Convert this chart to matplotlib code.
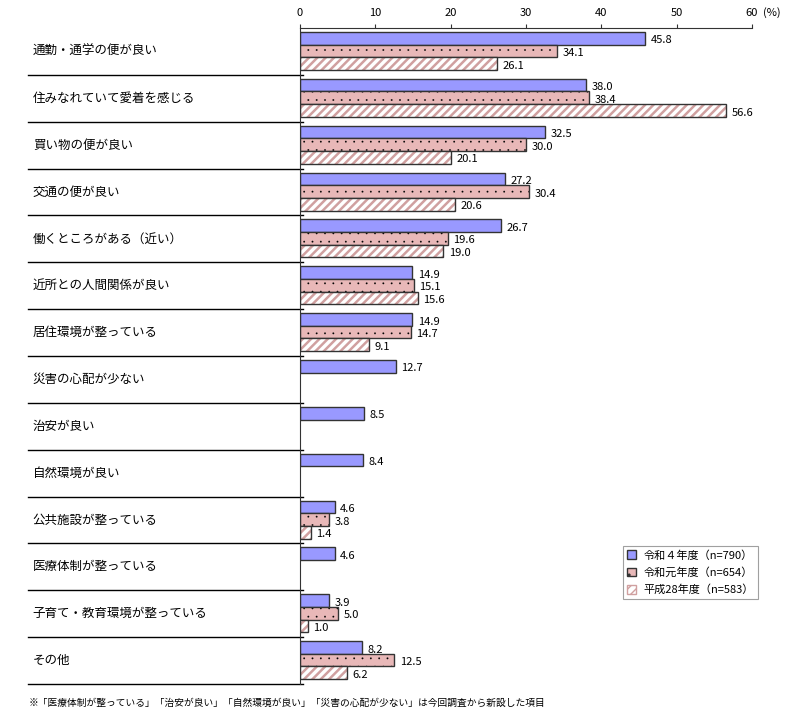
import numpy as np
import matplotlib
matplotlib.use("Agg")
import matplotlib.pyplot as plt
from matplotlib.patches import Patch
from matplotlib.transforms import blended_transform_factory

plt.rcParams['font.family'] = ['Noto Sans CJK JP', 'DejaVu Sans']

categories = ["通勤・通学の便が良い", "住みなれていて愛着を感じる", "買い物の便が良い",
              "交通の便が良い", "働くところがある（近い）", "近所との人間関係が良い",
              "居住環境が整っている", "災害の心配が少ない", "治安が良い",
              "自然環境が良い", "公共施設が整っている", "医療体制が整っている",
              "子育て・教育環境が整っている", "その他"]
r4 = [45.8, 38.0, 32.5, 27.2, 26.7, 14.9, 14.9, 12.7, 8.5, 8.4, 4.6, 4.6, 3.9, 8.2]
r1 = [34.1, 38.4, 30.0, 30.4, 19.6, 15.1, 14.7, None, None, None, 3.8, None, 5.0, 12.5]
h28 = [26.1, 56.6, 20.1, 20.6, 19.0, 15.6, 9.1, None, None, None, 1.4, None, 1.0, 6.2]
series_labels = ["令和４年度（n=790）", "令和元年度（n=654）", "平成28年度（n=583）"]
xticks = [0, 10, 20, 30, 40, 50, 60]
note = "※「医療体制が整っている」「治安が良い」「自然環境が良い」「災害の心配が少ない」は今回調査から新設した項目"

blue = "#9999FF"
pink = "#E8B8B8"
hatch_col = "#D0A0A0"
edge = "#333333"

fig = plt.figure(figsize=(8, 7.27), dpi=100)
ax = fig.add_axes([0.375, 0.0591, 0.565, 0.9024])
n = len(categories)
bh = 0.27
off = 0.085


def label(x, y):
    ax.annotate("%.1f" % x, (x, y), xytext=(4, -1.5), textcoords="offset points",
                va="center", ha="left", fontsize=8)


for i in range(n):
    y0 = i + off
    ax.barh(y0, r4[i], height=bh, align="edge", color=blue, edgecolor=edge, lw=1)
    label(r4[i], y0 + bh / 2)
    if r1[i] is not None:
        y1 = y0 + bh
        with plt.rc_context({'hatch.linewidth': 0.1}):
            ax.barh(y1, r1[i], height=bh, align="edge", color=pink, edgecolor="black",
                    lw=0, hatch="..")
        ax.barh(y1, r1[i], height=bh, align="edge", fill=False, edgecolor=edge, lw=1)
        label(r1[i], y1 + bh / 2)
    if h28[i] is not None:
        y2 = y0 + 2 * bh
        with plt.rc_context({'hatch.linewidth': 1.8}):
            ax.barh(y2, h28[i], height=bh, align="edge", color="white", edgecolor=hatch_col,
                    lw=0, hatch="////")
        ax.barh(y2, h28[i], height=bh, align="edge", fill=False, edgecolor=edge, lw=1)
        label(h28[i], y2 + bh / 2)

ax.set_xlim(0, 60)
ax.set_ylim(n, 0)
for s in ["right", "bottom"]:
    ax.spines[s].set_visible(False)
ax.spines["top"].set_color(edge)
ax.spines["left"].set_color(edge)
ax.xaxis.tick_top()
ax.set_xticks(xticks)
ax.tick_params(axis="x", direction="out", length=3, color=edge, labelsize=8, pad=4)
ax.annotate("(%)", (1.0, 1.0), xycoords="axes fraction", xytext=(8, 7),
            textcoords="offset points", fontsize=8, ha="left", va="bottom")
ax.set_yticks([])

tr = blended_transform_factory(ax.transAxes, ax.transData)
for i in range(1, n + 1):
    ax.plot([-0.602, 0.007], [i, i], color="black", lw=1, transform=tr, clip_on=False)
for i, c in enumerate(categories):
    ax.text(-0.591, i + 0.5, c, transform=tr, ha="left", va="center", fontsize=9)

with plt.rc_context({'hatch.linewidth': 0.1}):
    p_dot = Patch(facecolor=pink, edgecolor=edge, hatch="..")
with plt.rc_context({'hatch.linewidth': 1.5}):
    p_str = Patch(facecolor="white", edgecolor=hatch_col, hatch="////")
handles = [Patch(facecolor=blue, edgecolor=edge), p_dot, p_str]
leg = fig.legend(handles, series_labels, loc="upper left", bbox_to_anchor=(0.779, 0.249),
                 fontsize=8, frameon=True, fancybox=False, handlelength=0.8,
                 handleheight=0.8, handletextpad=0.7, borderpad=0.35, labelspacing=0.6,
                 borderaxespad=0)
leg.get_frame().set_edgecolor("#888888")
leg.get_frame().set_linewidth(0.8)

fig.text(0.036, 0.033, note, fontsize=7, ha="left", va="center")

fig.savefig("out.png", dpi=100)
